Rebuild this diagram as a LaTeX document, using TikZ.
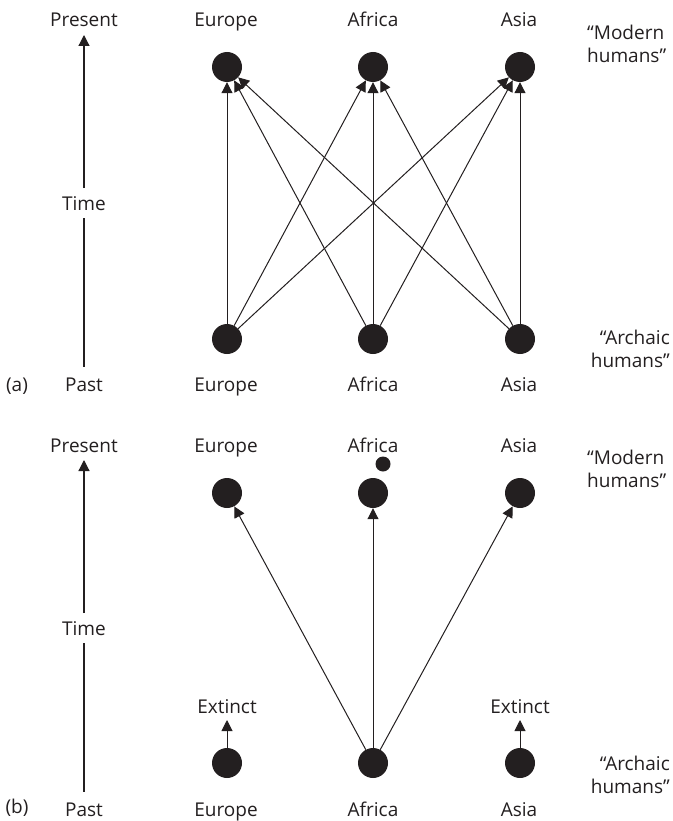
\documentclass[tikz,border=0pt]{standalone}
\usepackage{fontspec}
\setmainfont{Open Sans}
\usetikzlibrary{arrows.meta}
\definecolor{ink}{HTML}{231F20}
\begin{document}
\begin{tikzpicture}[x=1pt,y=-1pt,
  dot/.style={circle,fill=ink,inner sep=0pt,minimum size=30pt},
  smalldot/.style={circle,fill=ink,inner sep=0pt,minimum size=15pt},
  lab/.style={font=\fontsize{19}{23}\selectfont,text=ink,inner sep=0pt,anchor=base},
  lablr/.style={lab,align=left,anchor=north west},
  labrr/.style={lab,align=right,anchor=north east},
  arr/.style={-{Triangle[length=11pt,width=11pt]},line width=1pt,draw=ink},
  axisline/.style={line width=1.2pt,draw=ink},
  axisarr/.style={-{Triangle[length=11pt,width=11pt]},line width=1.2pt,draw=ink}
]
\useasboundingbox (0,0) rectangle (672,821);

% ================= Panel (a) =================
% time axis
\node[lab] (presA) at (84,27) {Present};
\node[lab] (timeA) at (84,210) {Time};
\node[lab] (pastA) at (84,391) {Past};
\node[lab] (tagA) at (17,391) {(a)};
\coordinate (aTip) at (84,35);
\coordinate (aUp) at (84,188);
\coordinate (aLow) at (84,218);
\coordinate (aEnd) at (84,367);
\draw[axisarr] (aUp) -- (aTip);
\draw[axisline] (aLow) -- (aEnd);

% labels
\node[lab] (aEuT) at (226,27) {Europe};
\node[lab] (aAfT) at (373,27) {Africa};
\node[lab] (aAsT) at (519,27) {Asia};
\node[lab] (aEuB) at (226,391) {Europe};
\node[lab] (aAfB) at (373,391) {Africa};
\node[lab] (aAsB) at (519,391) {Asia};
\node[lablr] (aMod) at (587,25) {“Modern\\humans”};
\node[labrr] (aArc) at (670,330) {“Archaic\\humans”};

% nodes
\node[dot] (aE1) at (227,67) {};
\node[dot] (aA1) at (373,67) {};
\node[dot] (aS1) at (520,67) {};
\node[dot] (aE0) at (227,339) {};
\node[dot] (aA0) at (373,339) {};
\node[dot] (aS0) at (520,339) {};

\foreach \s in {aE0,aA0,aS0}{
  \foreach \t in {aE1,aA1,aS1}{
    \draw[arr] (\s) -- (\t);
  }
}

% ================= Panel (b) =================
\node[lab] (presB) at (84,452) {Present};
\node[lab] (timeB) at (84,635) {Time};
\node[lab] (pastB) at (84,816) {Past};
\node[lab] (tagB) at (17,813) {(b)};
\coordinate (bTip) at (84,460);
\coordinate (bUp) at (84,613);
\coordinate (bLow) at (84,643);
\coordinate (bEnd) at (84,792);
\draw[axisarr] (bUp) -- (bTip);
\draw[axisline] (bLow) -- (bEnd);

\node[lab] (bEuT) at (226,452) {Europe};
\node[lab] (bAfT) at (373,452) {Africa};
\node[lab] (bAsT) at (519,452) {Asia};
\node[lab] (bEuB) at (226,816) {Europe};
\node[lab] (bAfB) at (373,816) {Africa};
\node[lab] (bAsB) at (519,816) {Asia};
\node[lab] (bExE) at (227,713) {Extinct};
\node[lab] (bExS) at (520,713) {Extinct};
\node[lablr] (bMod) at (587,450) {“Modern\\humans”};
\node[labrr] (bArc) at (670,756) {“Archaic\\humans”};

\node[dot] (bE1) at (227,493) {};
\node[dot] (bA1) at (373,493) {};
\node[dot] (bS1) at (520,493) {};
\node[smalldot] (bDot) at (383,464) {};
\node[dot] (bE0) at (227,763) {};
\node[dot] (bA0) at (373,763) {};
\node[dot] (bS0) at (520,763) {};

\coordinate (bExEtip) at (227,720);
\coordinate (bExStip) at (520,720);

\draw[arr] (bA0) -- (bE1);
\draw[arr] (bA0) -- (bA1);
\draw[arr] (bA0) -- (bS1);
\draw[arr] (bE0) -- (bExEtip);
\draw[arr] (bS0) -- (bExStip);
\end{tikzpicture}
\end{document}
